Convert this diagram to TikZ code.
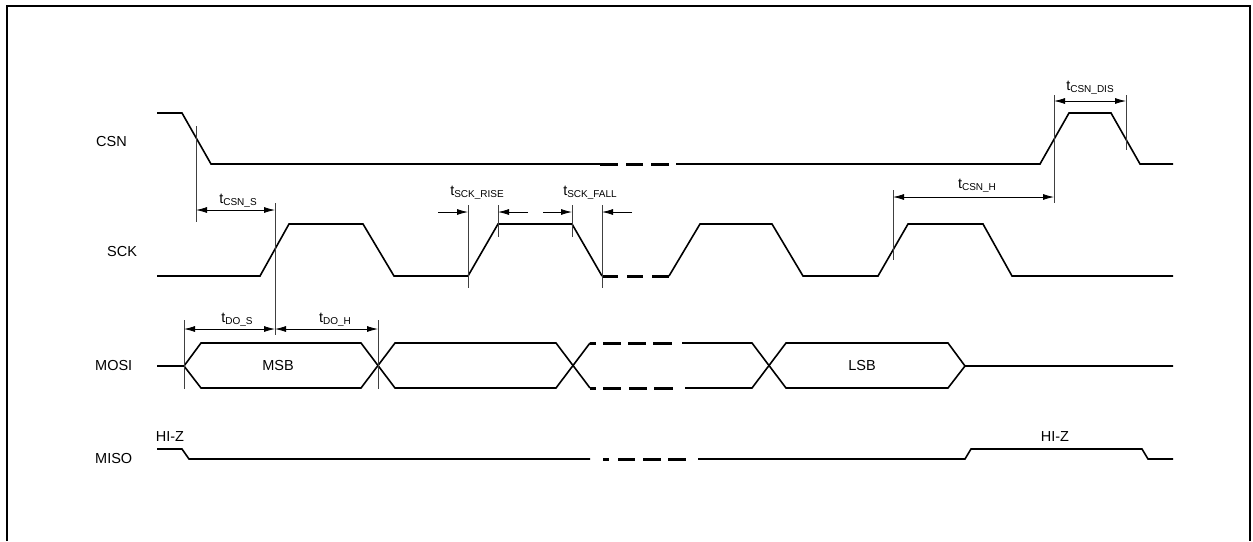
\documentclass[tikz,border=0pt]{standalone}
\usepackage{fontspec}
\setmainfont{Liberation Sans}
\usetikzlibrary{arrows.meta}
\newcommand{\tsub}[1]{t\raisebox{-2.5pt}{\fontsize{10}{10}\selectfont #1}}
\tikzset{
  sig/.style={line width=1.6pt, line join=miter},
  brk/.style={line width=3pt},
  vmk/.style={line width=0.9pt, draw=black!75},
  dim/.style={line width=0.8pt, {Latex[length=11pt,width=6pt]}-{Latex[length=11pt,width=6pt]}},
  onearrow/.style={line width=0.8pt, -{Latex[length=11pt,width=6pt]}},
  lab/.style={font=\fontsize{14.5}{16}\selectfont, inner sep=0pt},
}
\begin{document}
\begin{tikzpicture}[x=1pt,y=-1pt]
\useasboundingbox (0,0) rectangle (1253,541);
% frame
\draw[line width=2pt] (7,541) -- (7,6) -- (1250,6) -- (1250,541);

% signal labels
\node[lab, anchor=west] (lcsn) at (96,142) {CSN};
\node[lab, anchor=west] (lsck) at (107,252) {SCK};
\node[lab, anchor=west] (lmosi) at (95,366) {MOSI};
\node[lab, anchor=west] (lmiso) at (95,459) {MISO};

% CSN
\draw[sig] (157,113) -- (182,113) -- (211,164) -- (600,164);
\draw[brk] (600,164) -- (618,164) (626,164) -- (643,164) (651,164) -- (669,164);
\draw[sig] (676,164) -- (1040,164) -- (1069,113) -- (1111,113) -- (1140,164) -- (1173,164);

% SCK
\draw[sig] (157,276) -- (260,276) -- (289,224) -- (363,224) -- (394,276) -- (468,276) -- (498,224) -- (572,224) -- (602,276);
\draw[brk] (602,276) -- (618,276) (627,276) -- (643,276) (652,276) -- (669,276);
\draw[sig] (669,276) -- (700,224) -- (772,224) -- (803,276) -- (878,276) -- (908,224) -- (983,224) -- (1012,276) -- (1173,276);

% MOSI
\draw[sig] (157,366) -- (184,366);
\draw[sig] (184,366) -- (201,343) -- (361,343) -- (395,388) -- (556,388) -- (590,343);
\draw[sig] (184,366) -- (201,388) -- (361,388) -- (395,343) -- (556,343) -- (590,388);
\draw[brk] (590,343) -- (596,343) (603,343) -- (621,343) (628,343) -- (646,343) (653,343) -- (672,343);
\draw[brk] (590,388) -- (596,388) (603,388) -- (621,388) (629,388) -- (647,388) (654,388) -- (673,388);
\draw[sig] (682,343) -- (752,343) -- (786,388) -- (948,388) -- (965,366) -- (1173,366);
\draw[sig] (685,388) -- (752,388) -- (786,343) -- (948,343) -- (965,366);
\node[lab] (msb) at (278,366) {MSB};
\node[lab] (lsb) at (862,366) {LSB};

% MISO
\draw[sig] (157,449) -- (182,449) -- (189,459) -- (590,459);
\draw[brk] (603,459) -- (609,459) (618,459) -- (635,459) (643,459) -- (661,459) (668,459) -- (686,459);
\draw[sig] (698,459) -- (965,459) -- (971,449) -- (1142,449) -- (1148,459) -- (1173,459);
\node[lab] (hiz1) at (170,437) {HI-Z};
\node[lab] (hiz2) at (1055,437) {HI-Z};

% timing markers
\coordinate (m1t) at (196,126); \coordinate (m1b) at (196,222);
\coordinate (m2t) at (275,203); \coordinate (m2b) at (275,335);
\coordinate (m3t) at (468,205); \coordinate (m3b) at (468,288);
\coordinate (m4t) at (498,205); \coordinate (m4b) at (498,237);
\coordinate (m5t) at (572,205); \coordinate (m5b) at (572,237);
\coordinate (m6t) at (602,205); \coordinate (m6b) at (602,288);
\coordinate (m7t) at (893,190); \coordinate (m7b) at (893,260);
\coordinate (m8t) at (1054,95); \coordinate (m8b) at (1054,203);
\coordinate (m9t) at (1126,95); \coordinate (m9b) at (1126,150);
\coordinate (m10t) at (184,320); \coordinate (m10b) at (184,389);
\coordinate (m11t) at (378,320); \coordinate (m11b) at (378,389);
\foreach \i in {1,...,11} { \draw[vmk] (m\i t) -- (m\i b); }

% dimension arrows
\draw[dim] (196,210) -- (275,210);
\node[lab] (tcsns) at (238,201) {\tsub{CSN\_S}};
\draw[dim] (893,197) -- (1054,197);
\node[lab] (tcsnh) at (977,186) {\tsub{CSN\_H}};
\draw[dim] (1054,101) -- (1126,101);
\node[lab] (tcsndis) at (1090,88) {\tsub{CSN\_DIS}};
\draw[dim] (184,329) -- (275,329);
\node[lab] (tdos) at (237,320) {\tsub{DO\_S}};
\draw[dim] (275,329) -- (378,329);
\node[lab] (tdoh) at (335,320) {\tsub{DO\_H}};
\draw[onearrow] (438,212) -- (468,212);
\draw[onearrow] (528,212) -- (498,212);
\node[lab] (trise) at (477,193) {\tsub{SCK\_RISE}};
\draw[onearrow] (543,212) -- (572,212);
\draw[onearrow] (632,212) -- (602,212);
\node[lab] (tfall) at (590,193) {\tsub{SCK\_FALL}};
\end{tikzpicture}
\end{document}
